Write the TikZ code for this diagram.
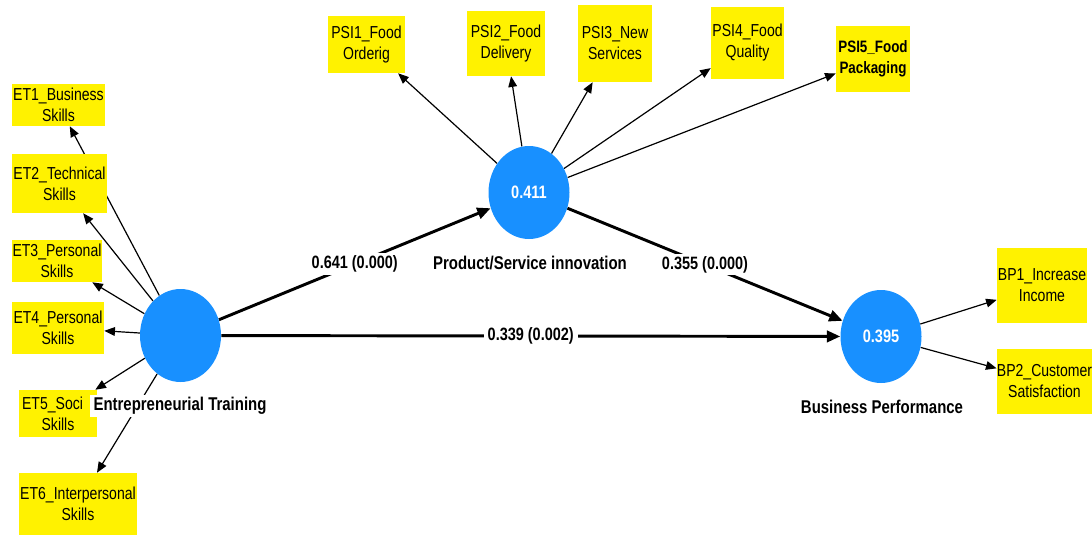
\documentclass[tikz,border=0pt]{standalone}
\usepackage{fontspec}
\setmainfont{Liberation Sans}[FakeStretch=0.81]
\usetikzlibrary{shapes.geometric,arrows.meta}
\definecolor{lvblue}{RGB}{24,144,255}
\pgfdeclarelayer{edges}
\pgfsetlayers{edges,main}
\begin{document}
\begin{tikzpicture}[x=0.75pt,y=0.75pt,yscale=-1,xscale=1,
  ind/.style={fill=yellow,inner sep=0pt,align=center,font=\fontsize{13}{15.75}\selectfont},
  lv/.style={ellipse,fill=lvblue,minimum width=60.75pt,minimum height=69.75pt,inner sep=0pt,text=white,font=\bfseries\fontsize{13.5}{15}\selectfont},
  lvname/.style={fill=white,inner xsep=3pt,inner ysep=2pt,font=\bfseries\fontsize{13.85}{16}\selectfont},
  load/.style={line width=0.9pt,-{Triangle[length=8pt,width=6.5pt]}},
  strpath/.style={line width=2.2pt,-{Triangle[length=10pt,width=8.5pt]}},
  coef/.style={fill=white,inner xsep=3pt,inner ysep=2pt,font=\bfseries\fontsize{13.4}{15}\selectfont}]
\useasboundingbox (0,0) rectangle (1092,535);

%Shape: Latent variables
\node [lv] (et) at (180.5,335.5) {};
\node [lv] (psi) at (529,192.5) {0.411};
\node [lv] (bp) at (881,336.5) {0.395};

%Shape: Indicators, Entrepreneurial Training
\node [ind,minimum width=69.75pt,minimum height=31.5pt] (et1) at (58.5,105) {ET1\_Business\\Skills};
\node [ind,minimum width=71.25pt,minimum height=44.25pt] (et2) at (59.5,183.5) {ET2\_Technical\\Skills};
\node [ind,minimum width=67.5pt,minimum height=31.5pt] (et3) at (57,261) {ET3\_Personal\\Skills};
\node [ind,minimum width=69pt,minimum height=39pt] (et4) at (58,328) {ET4\_Personal\\Skills};
\node [ind,minimum width=58.5pt,minimum height=35.25pt] (et5) at (58,413.5) {\rlap{ET5\_Soci}\phantom{ET5\_Social}\\Skills};
\node [ind,minimum width=88.5pt,minimum height=46.5pt] (et6) at (78,504) {ET6\_Interpersonal\\Skills};

%Shape: Indicators, Product/Service innovation
\node [ind,minimum width=57.75pt,minimum height=42.75pt] (psi1) at (366.5,44.5) {PSI1\_Food\\Orderig};
\node [ind,minimum width=58.5pt,minimum height=48.75pt] (psi2) at (506,43.5) {PSI2\_Food\\Delivery};
\node [ind,minimum width=55.5pt,minimum height=57.75pt] (psi3) at (615,43.5) {PSI3\_New\\Services};
\node [ind,minimum width=54.75pt,minimum height=54pt] (psi4) at (747.5,43) {PSI4\_Food\\Quality};
\node [ind,minimum width=55.5pt,minimum height=49.5pt,font=\bfseries\fontsize{12.4}{15.75}\selectfont] (psi5) at (873,59) {PSI5\_Food\\Packaging};

%Shape: Indicators, Business Performance
\node [ind,minimum width=67.5pt,minimum height=56.25pt] (bp1) at (1042,285.5) {BP1\_Increase\\Income};
\node [ind,minimum width=71.25pt,minimum height=48.75pt] (bp2) at (1044.5,381.5) {BP2\_Customer\\Satisfaction};

% Text Node
\node [lvname] (etname) at (180,406) {Entrepreneurial Training};
% Text Node
\node [lvname] (psiname) at (530,263) {Product/Service innovation};
% Text Node
\node [lvname] (bpname) at (882,407) {Business Performance};

\begin{pgfonlayer}{edges}
%Straight Lines: outer loadings
\foreach \i in {1,...,6} \draw [load] (et) -- (et\i);
\foreach \i in {1,...,5} \draw [load] (psi) -- (psi\i);
\foreach \i in {1,2} \draw [load] (bp) -- (bp\i);
%Straight Lines: path coefficients
\draw [strpath] (et) -- (psi) node [coef,midway] {0.641 (0.000)};
\draw [strpath] (psi) -- (bp) node [coef,midway] {0.355 (0.000)};
\draw [strpath] (et) -- (bp) node [coef,midway] {0.339 (0.002)};
\end{pgfonlayer}
\end{tikzpicture}
\end{document}
